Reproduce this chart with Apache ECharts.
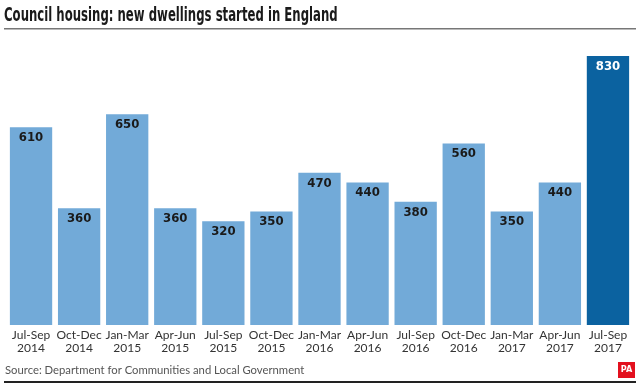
<!DOCTYPE html>
<html><head><meta charset="utf-8">
<script src="https://cdn.jsdelivr.net/npm/echarts@6/dist/echarts.min.js"></script>
<style>html,body{margin:0;padding:0;background:#fff}#c{width:640px;height:384px}</style>
</head><body><div id="c"></div>
<script>
const periods = ['Jul-Sep','Oct-Dec','Jan-Mar','Apr-Jun','Jul-Sep','Oct-Dec','Jan-Mar','Apr-Jun','Jul-Sep','Oct-Dec','Jan-Mar','Apr-Jun','Jul-Sep'];
const years = ['2014','2014','2015','2015','2015','2015','2016','2016','2016','2016','2017','2017','2017'];
const values = [610,360,650,360,320,350,470,440,380,560,350,440,830];
const categories = periods.map((p,i)=>p+'\n'+years[i]);
const highlightIndex = 12;
const titleText = 'Council housing: new dwellings started in England';
const sourceText = 'Source: Department for Communities and Local Government';

const chart = echarts.init(document.getElementById('c'));
chart.setOption({
  animation:false,
  grid:{left:7,right:8,top:56,bottom:59},
  xAxis:{type:'category',data:categories,
    axisLine:{show:false},axisTick:{show:false},
    axisLabel:{interval:0,margin:4,fontFamily:'Lato',fontSize:12,color:'#333',lineHeight:13}},
  yAxis:{type:'value',min:0,max:830,show:false,splitLine:{show:false}},
  series:[{type:'bar',barCategoryGap:'12%',
    data:values.map((v,i)=>({value:v,itemStyle:{color:i===highlightIndex?'#0b62a0':'#72aad8'},
      label:{color:i===highlightIndex?'#fff':'#1a1a1a'}})),
    label:{show:true,position:'insideTop',distance:4,fontFamily:'"DejaVu Sans Condensed", Lato',fontWeight:'bold',fontSize:13}}],
  graphic:[
    {type:'text',x:4,y:7,scaleX:0.685,style:{text:titleText,fill:'#1a1a1a',font:'bold 19px "DejaVu Sans Condensed"',verticalAlign:'top'}},
    {type:'text',x:5,y:364,scaleX:0.94,style:{text:sourceText,fill:'#555',font:'12px Lato',verticalAlign:'top'}},
    {type:'rect',shape:{x:4,y:28,width:632,height:1.5},style:{fill:'#777'}},
    {type:'rect',shape:{x:4,y:381,width:632,height:2},style:{fill:'#222'}},
    {type:'rect',shape:{x:618,y:362,width:17,height:16},style:{fill:'#e3101e'}},
    {type:'text',x:626.5,y:370,style:{text:'PA',fill:'#fff',font:'bold 9px "DejaVu Sans Condensed"',align:'center',verticalAlign:'middle'}}
  ]
});
</script></body></html>
